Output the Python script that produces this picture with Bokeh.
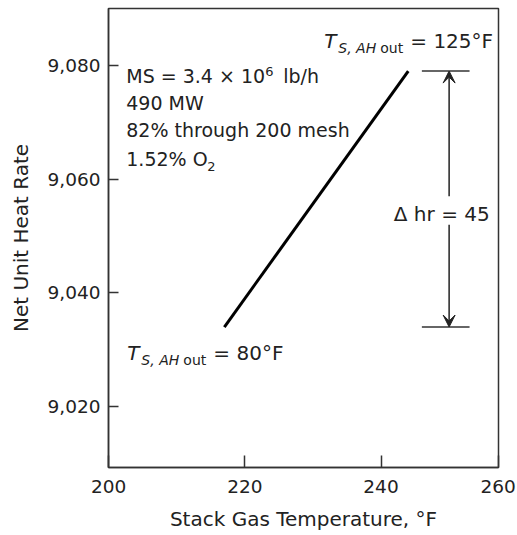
from bokeh.plotting import figure
from bokeh.models import Range1d, FixedTicker, Arrow, VeeHead
from bokeh.core.properties import value
from bokeh.embed import file_html
from bokeh.resources import INLINE

# Net unit heat rate against stack gas temperature
stack_temp = [217, 244]          # °F
heat_rate = [9034, 9079]         # Btu/kWh
ah_outlet_temp = [80, 125]       # °F, air heater outlet at each end

x_ticks = [200, 220, 240, 257.2]
x_tick_labels = ["200", "220", "240", "260"]
y_ticks = [9020, 9040, 9060, 9080]
y_tick_labels = ["9,020", "9,040", "9,060", "9,080"]

delta_hr = heat_rate[1] - heat_rate[0]
bracket_x = [246, 253]
arrow_x = 250

FONT = "DejaVu Sans"
INK = "#222222"

p = figure(width=517, height=535,
           x_range=Range1d(199.99, 257.25), y_range=Range1d(9009.3, 9090),
           output_backend="svg", toolbar_location=None,
           min_border_left=108, min_border_right=19,
           min_border_top=8, min_border_bottom=68)
p.grid.visible = False
p.outline_line_color = "#333333"
p.outline_line_width = 1.5
p.background_fill_color = "white"
p.border_fill_color = "white"

p.xaxis.ticker = FixedTicker(ticks=x_ticks)
p.xaxis.major_label_overrides = dict(zip(x_ticks, x_tick_labels))
p.yaxis.ticker = FixedTicker(ticks=y_ticks)
p.yaxis.major_label_overrides = dict(zip(y_ticks, y_tick_labels))

p.xaxis.axis_label = "Stack Gas Temperature, \u00b0F"
p.yaxis.axis_label = "Net Unit Heat Rate"
for ax in (p.xaxis, p.yaxis):
    ax.axis_line_color = "#333333"
    ax.axis_line_width = 1.5
    ax.major_tick_line_color = "#333333"
    ax.major_tick_line_width = 1.5
    ax.major_tick_out = 0
    ax.minor_tick_line_color = None
    ax.major_label_text_font = FONT
    ax.major_label_text_font_size = "18.5px"
    ax.major_label_text_color = INK
    ax.axis_label_text_font = FONT
    ax.axis_label_text_font_size = "20px"
    ax.axis_label_text_font_style = "normal"
    ax.axis_label_text_color = INK
p.xaxis.major_tick_in = 12
p.yaxis.major_tick_in = 10
p.xaxis.major_label_standoff = 12
p.xaxis.axis_label_standoff = 11
p.yaxis.major_label_standoff = 8
p.yaxis.axis_label_standoff = 12

# the heat-rate line
p.line(stack_temp, heat_rate, line_color="black", line_width=3)

# Δ hr bracket
p.segment(x0=[bracket_x[0]] * 2, y0=heat_rate, x1=[bracket_x[1]] * 2, y1=heat_rate,
          line_color="#333333", line_width=1.5)
p.add_layout(Arrow(end=VeeHead(size=12, fill_color=INK, line_color=INK, line_width=1),
                   x_start=arrow_x, y_start=9057, x_end=arrow_x, y_end=heat_rate[1],
                   line_color=INK, line_width=1.5))
p.add_layout(Arrow(end=VeeHead(size=12, fill_color=INK, line_color=INK, line_width=1),
                   x_start=arrow_x, y_start=9052, x_end=arrow_x, y_end=heat_rate[0],
                   line_color=INK, line_width=1.5))
p.text(x=[248.92], y=[9053.9], text=[f"\u0394 hr = {delta_hr}"],
       text_font=value(FONT), text_font_size="20px", text_color=INK,
       text_align="center", text_baseline="middle")


def txt(x, y, s, size, dx=0, dy=0, style="normal"):
    p.text(x=[x], y=[y], text=[s], x_offset=dx, y_offset=dy,
           text_font=value(FONT), text_font_size=size, text_font_style=style,
           text_color=INK, text_align="left", text_baseline="middle")


# operating conditions
bx = 202.6
txt(bx, 9078.05, "MS = 3.4 \u00d7 10", "19px")
txt(bx, 9078.05, "6", "13px", dx=139, dy=-5)
txt(bx, 9078.05, "lb/h", "19px", dx=157)
txt(bx, 9073.35, "490 MW", "19px")
txt(bx, 9068.66, "82% through 200 mesh", "19px")
txt(bx, 9063.56, "1.52% O", "19px")
txt(bx, 9063.56, "2", "13px", dx=81, dy=8)


# T_S, AH out labels at both ends of the line
def t_label(x, y, temp):
    txt(x, y, "T", "20px", style="italic")
    txt(x, y, "S, AH", "14px", dx=14, dy=7, style="italic")
    txt(x, y, "out", "14px", dx=56, dy=7)
    txt(x, y, f"= {temp}\u00b0F", "20px", dx=86)


t_label(231.67, 9084.34, ah_outlet_temp[1])
t_label(202.76, 9029.49, ah_outlet_temp[0])

open("out.html", "w").write(file_html(p, INLINE))
